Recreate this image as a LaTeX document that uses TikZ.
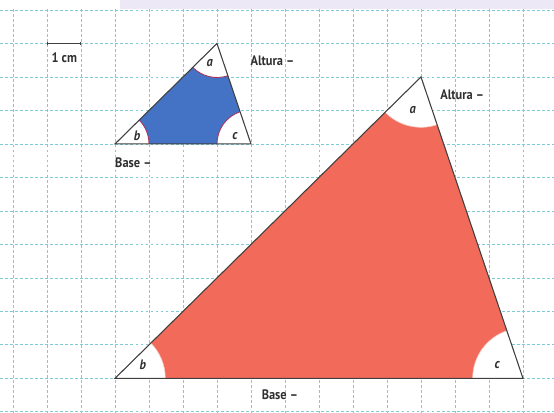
\documentclass[tikz,border=0pt]{standalone}
\usepackage{fontspec}
\setmainfont{PT Sans}[FakeStretch=0.9]
\usetikzlibrary{angles,arrows.meta}
\definecolor{gridline}{HTML}{7FCBD6}
\definecolor{band}{HTML}{ECE8F6}
\definecolor{smallfill}{HTML}{4472C4}
\definecolor{bigfill}{HTML}{F26A5A}
\definecolor{edge}{HTML}{404040}
\definecolor{arcsmall}{HTML}{A8325A}
\definecolor{arcbig}{HTML}{F6C9C3}
\definecolor{labeltext}{HTML}{303030}

\begin{document}
\begin{tikzpicture}[x=1cm, y=0.985cm,
    grid line/.style={gridline, line width=0.7pt, dash pattern=on 2.4pt off 1.8pt},
    side/.style={edge, line width=0.9pt, line join=miter},
    corner small/.style={draw=arcsmall, fill=white, line width=0.7pt, angle radius=1.0cm},
    corner big/.style={draw=arcbig, fill=white, line width=0.5pt, angle radius=1.48cm},
    tag/.style={text=labeltext, inner sep=0pt, font=\fontsize{11.5}{13}\selectfont\bfseries},
    corner tag/.style={text=labeltext, inner sep=0pt, font=\fontsize{11.5}{13}\selectfont\bfseries\itshape}
]

\useasboundingbox (-0.382,-12.03) rectangle (15.912,0.2985);
\fill[white] (-0.382,-12.03) rectangle (15.912,0.2985);
\fill[band] (3.15,0.03) rectangle (15.912,0.2985);

% squared paper
\foreach \x in {0,...,15}
    \draw[grid line] (\x,0.03) -- (\x,-12.03);
\foreach \y in {0,...,12}
    \draw[grid line] (-0.382,-\y) -- (15.912,-\y);

% scale bar
\coordinate (cmL) at (1,-1);
\coordinate (cmR) at (2,-1);
\draw[edge, line width=0.8pt, {Bar[width=3pt]}-{Bar[width=3pt]}] (cmL) -- (cmR);
\node[tag] (cmTag) at (1.51,-1.43) {1 cm};

% small triangle
\coordinate (sb) at (3,-4);
\coordinate (sc) at (7,-4);
\coordinate (sa) at (6,-1);
\fill[smallfill] (sa) -- (sb) -- (sc) -- cycle;
\pic[corner small] {angle=sc--sb--sa};
\pic[corner small] {angle=sa--sc--sb};
\pic[corner small] {angle=sb--sa--sc};
\draw[side] (sa) -- (sb) -- (sc) -- cycle;

\node[corner tag] (saTag) at (5.79,-1.58) {a};
\node[corner tag] (sbTag) at (3.65,-3.76) {b};
\node[corner tag] (scTag) at (6.53,-3.76) {c};
\node[tag, anchor=west] (sAltura) at (6.98,-1.52) {Altura –};
\node[tag, anchor=west] (sBase) at (3.0,-4.57) {Base –};

% large triangle
\coordinate (bb) at (3,-11);
\coordinate (bc) at (15,-11);
\coordinate (ba) at (12,-2);
\fill[bigfill] (ba) -- (bb) -- (bc) -- cycle;
\pic[corner big] {angle=bc--bb--ba};
\pic[corner big] {angle=ba--bc--bb};
\pic[corner big] {angle=bb--ba--bc};
\draw[side] (ba) -- (bb) -- (bc) -- cycle;

\node[corner tag] (baTag) at (11.76,-2.99) {a};
\node[corner tag] (bbTag) at (3.82,-10.6) {b};
\node[corner tag] (bcTag) at (14.24,-10.6) {c};
\node[tag, anchor=west] (bAltura) at (12.56,-2.54) {Altura –};
\node[tag] (bBase) at (7.85,-11.49) {Base –};

\end{tikzpicture}
\end{document}
